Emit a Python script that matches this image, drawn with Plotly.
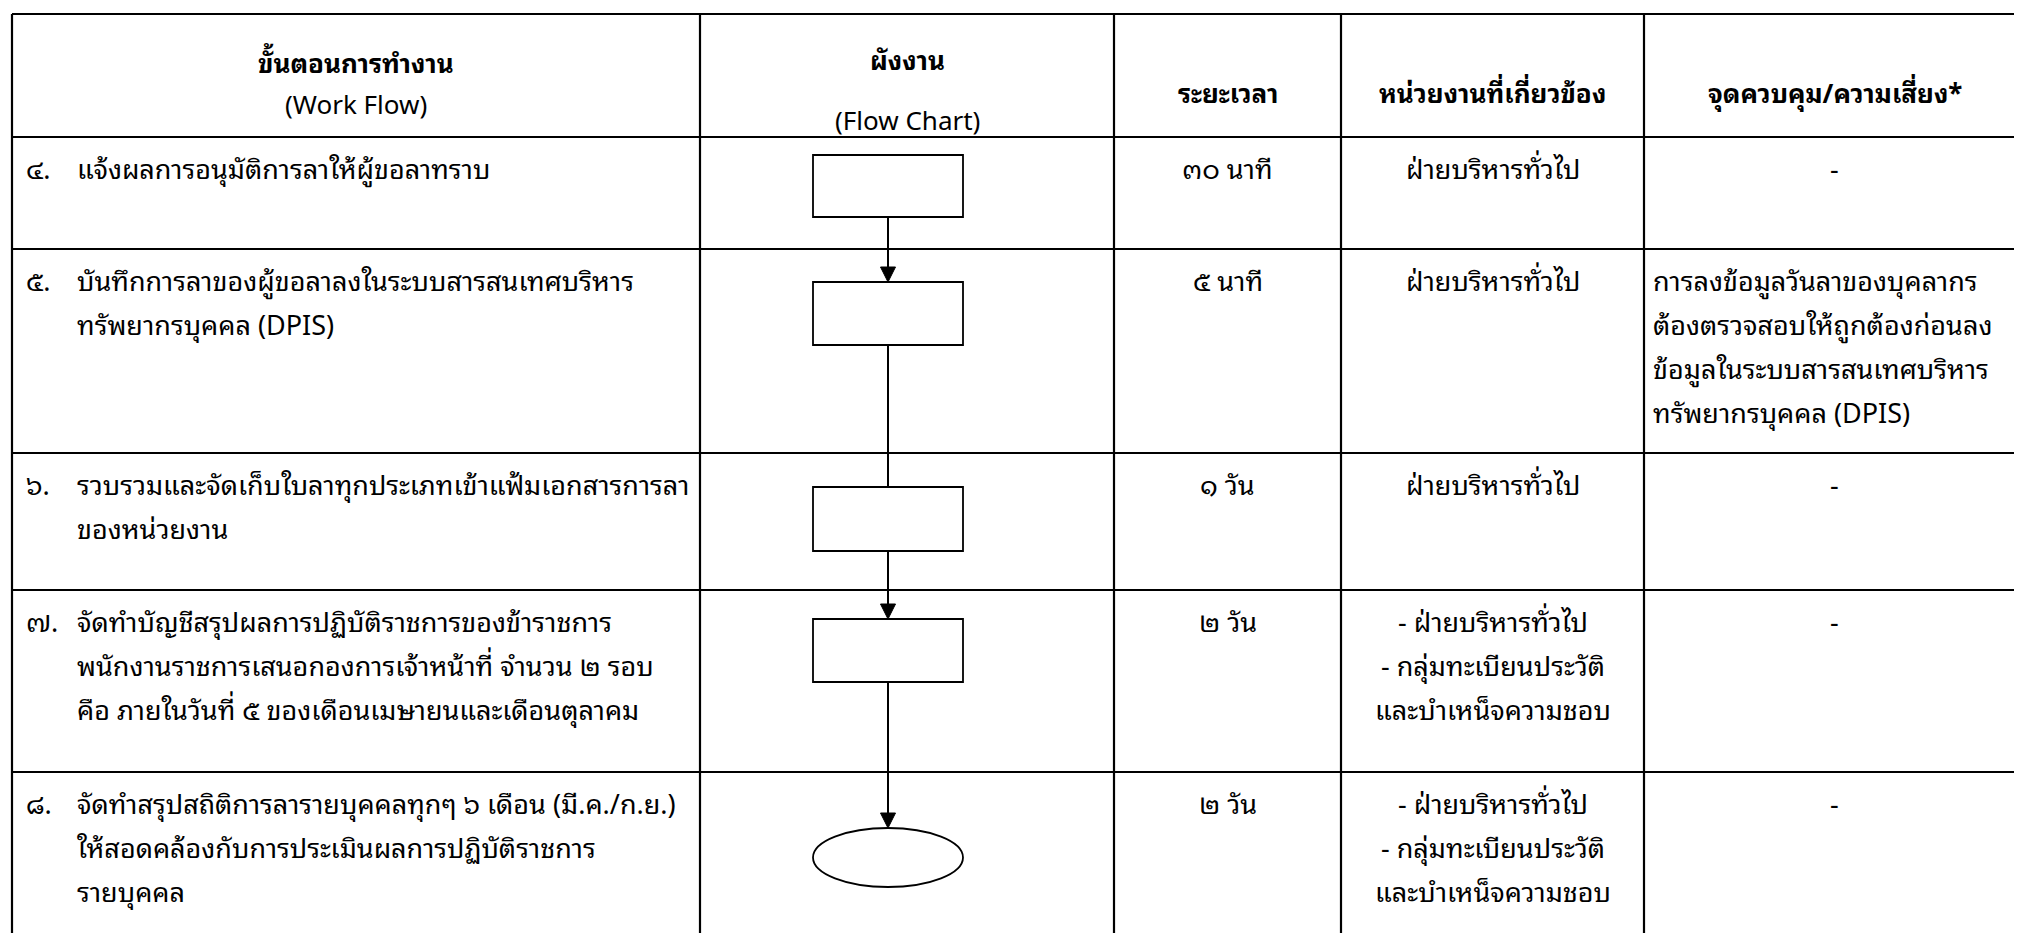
import plotly.graph_objects as go

# ---------------- data ----------------
step_numbers = ["๔.", "๕.", "๖.", "๗.", "๘."]
step_texts = [
    ["แจ้งผลการอนุมัติการลาให้ผู้ขอลาทราบ"],
    ["บันทึกการลาของผู้ขอลาลงในระบบสารสนเทศบริหาร", "ทรัพยากรบุคคล (DPIS)"],
    ["รวบรวมและจัดเก็บใบลาทุกประเภทเข้าแฟ้มเอกสารการลา", "ของหน่วยงาน"],
    ["จัดทำบัญชีสรุปผลการปฏิบัติราชการของข้าราชการ",
     "พนักงานราชการเสนอกองการเจ้าหน้าที่ จำนวน ๒ รอบ",
     "คือ ภายในวันที่ ๕ ของเดือนเมษายนและเดือนตุลาคม"],
    ["จัดทำสรุปสถิติการลารายบุคคลทุกๆ ๖ เดือน (มี.ค./ก.ย.)",
     "ให้สอดคล้องกับการประเมินผลการปฏิบัติราชการ",
     "รายบุคคล"],
]
flow_shapes = ["rect", "rect", "rect", "rect", "ellipse"]
flow_arrowheads = [True, False, True, True]
durations = ["๓๐ นาที", "๕ นาที", "๑ วัน", "๒ วัน", "๒ วัน"]
units = [
    ["ฝ่ายบริหารทั่วไป"],
    ["ฝ่ายบริหารทั่วไป"],
    ["ฝ่ายบริหารทั่วไป"],
    ["- ฝ่ายบริหารทั่วไป", "- กลุ่มทะเบียนประวัติ", "และบำเหน็จความชอบ"],
    ["- ฝ่ายบริหารทั่วไป", "- กลุ่มทะเบียนประวัติ", "และบำเหน็จความชอบ"],
]
controls = [
    ["-"],
    ["การลงข้อมูลวันลาของบุคลากร", "ต้องตรวจสอบให้ถูกต้องก่อนลง",
     "ข้อมูลในระบบสารสนเทศบริหาร", "ทรัพยากรบุคคล (DPIS)"],
    ["-"],
    ["-"],
    ["-"],
]
header_col1 = ["ขั้นตอนการทำงาน", "(Work Flow)"]
header_col2 = ["ผังงาน", "(Flow Chart)"]
header_col3 = "ระยะเวลา"
header_col4 = "หน่วยงานที่เกี่ยวข้อง"
header_col5 = "จุดควบคุม/ความเสี่ยง*"

# ---------------- layout constants ----------------
W, H = 2022, 933
col_edges = [4, 692, 1106, 1333, 1636, 2017]
row_edges = [6, 129, 241, 445, 582, 764]
table_bottom = 940
node_top_offsets = [18, 33, 34, 29, 56]
node_heights = [62, 63, 64, 63, 59]
node_w = 150
node_cx = 880
first_line_offset = 29
line_gap = 44
FONT = "Noto Sans Thai Looped, Noto Sans Thai, Tahoma, Noto Sans, sans-serif"
FS = 27
FS_HEAD = 26
LINE_W = 2.2

fig = go.Figure()
fig.add_trace(go.Scatter(x=[0, W], y=[0, H], mode="markers",
                         marker=dict(opacity=0), hoverinfo="skip", showlegend=False))

shapes = []
for y in row_edges:
    shapes.append(dict(type="line", xref="x", yref="y", x0=col_edges[0], x1=col_edges[-1],
                       y0=y, y1=y, line=dict(color="black", width=LINE_W)))
for x in col_edges:
    shapes.append(dict(type="line", xref="x", yref="y", x0=x, x1=x,
                       y0=row_edges[0], y1=table_bottom, line=dict(color="black", width=LINE_W)))

node_tops = [row_edges[i + 1] + node_top_offsets[i] for i in range(len(flow_shapes))]
node_bottoms = [t + h for t, h in zip(node_tops, node_heights)]
for kind, t, b in zip(flow_shapes, node_tops, node_bottoms):
    shapes.append(dict(type="rect" if kind == "rect" else "circle", xref="x", yref="y",
                       x0=node_cx - node_w / 2, x1=node_cx + node_w / 2, y0=t, y1=b,
                       line=dict(color="black", width=1.8), fillcolor="white"))

head_w, head_h = 15, 15
for i, has_head in enumerate(flow_arrowheads):
    y_start = node_bottoms[i]
    y_end = node_tops[i + 1]
    shapes.append(dict(type="line", xref="x", yref="y", x0=node_cx, x1=node_cx,
                       y0=y_start, y1=y_end - (head_h if has_head else 0),
                       line=dict(color="black", width=2)))
    if has_head:
        path = (f"M {node_cx - head_w / 2} {y_end - head_h} L {node_cx + head_w / 2} {y_end - head_h} "
                f"L {node_cx} {y_end} Z")
        shapes.append(dict(type="path", xref="x", yref="y", path=path,
                           fillcolor="black", line=dict(color="black", width=1)))

annotations = []


def txt(x, y, s, anchor="center", bold=False, size=FS):
    annotations.append(dict(x=x, y=y, xref="x", yref="y", text=(f"<b>{s}</b>" if bold else s),
                            showarrow=False, xanchor=anchor, yanchor="middle",
                            font=dict(family=FONT, size=size, color="black")))


def cmid(i):
    return (col_edges[i] + col_edges[i + 1]) / 2


txt(cmid(0), 53, header_col1[0], bold=True, size=FS_HEAD)
txt(cmid(0), 94, header_col1[1], size=FS_HEAD)
txt(cmid(1), 50, header_col2[0], bold=True, size=FS_HEAD)
txt(cmid(1), 110, header_col2[1], size=FS_HEAD)
txt(cmid(2), 83, header_col3, bold=True, size=FS_HEAD)
txt(cmid(3), 83, header_col4, bold=True, size=FS_HEAD)
txt(cmid(4), 83, header_col5, bold=True, size=FS_HEAD)

for r in range(len(step_numbers)):
    top = row_edges[r + 1]
    y0 = top + first_line_offset
    txt(col_edges[0] + 12, y0, step_numbers[r], anchor="left")
    for k, line in enumerate(step_texts[r]):
        txt(col_edges[0] + 63, y0 + k * line_gap, line, anchor="left")
    txt(cmid(2), y0, durations[r])
    for k, line in enumerate(units[r]):
        txt(cmid(3), y0 + k * line_gap, line)
    if len(controls[r]) == 1:
        txt(cmid(4), y0, controls[r][0])
    else:
        for k, line in enumerate(controls[r]):
            txt(col_edges[4] + 7, y0 + k * line_gap, line, anchor="left")

fig.update_layout(
    width=W, height=H, margin=dict(l=0, r=0, t=0, b=0),
    paper_bgcolor="white", plot_bgcolor="white",
    xaxis=dict(range=[0, W], visible=False, fixedrange=True),
    yaxis=dict(range=[H, 0], visible=False, fixedrange=True),
    shapes=shapes, annotations=annotations, showlegend=False,
)

fig.write_html("out.html")
